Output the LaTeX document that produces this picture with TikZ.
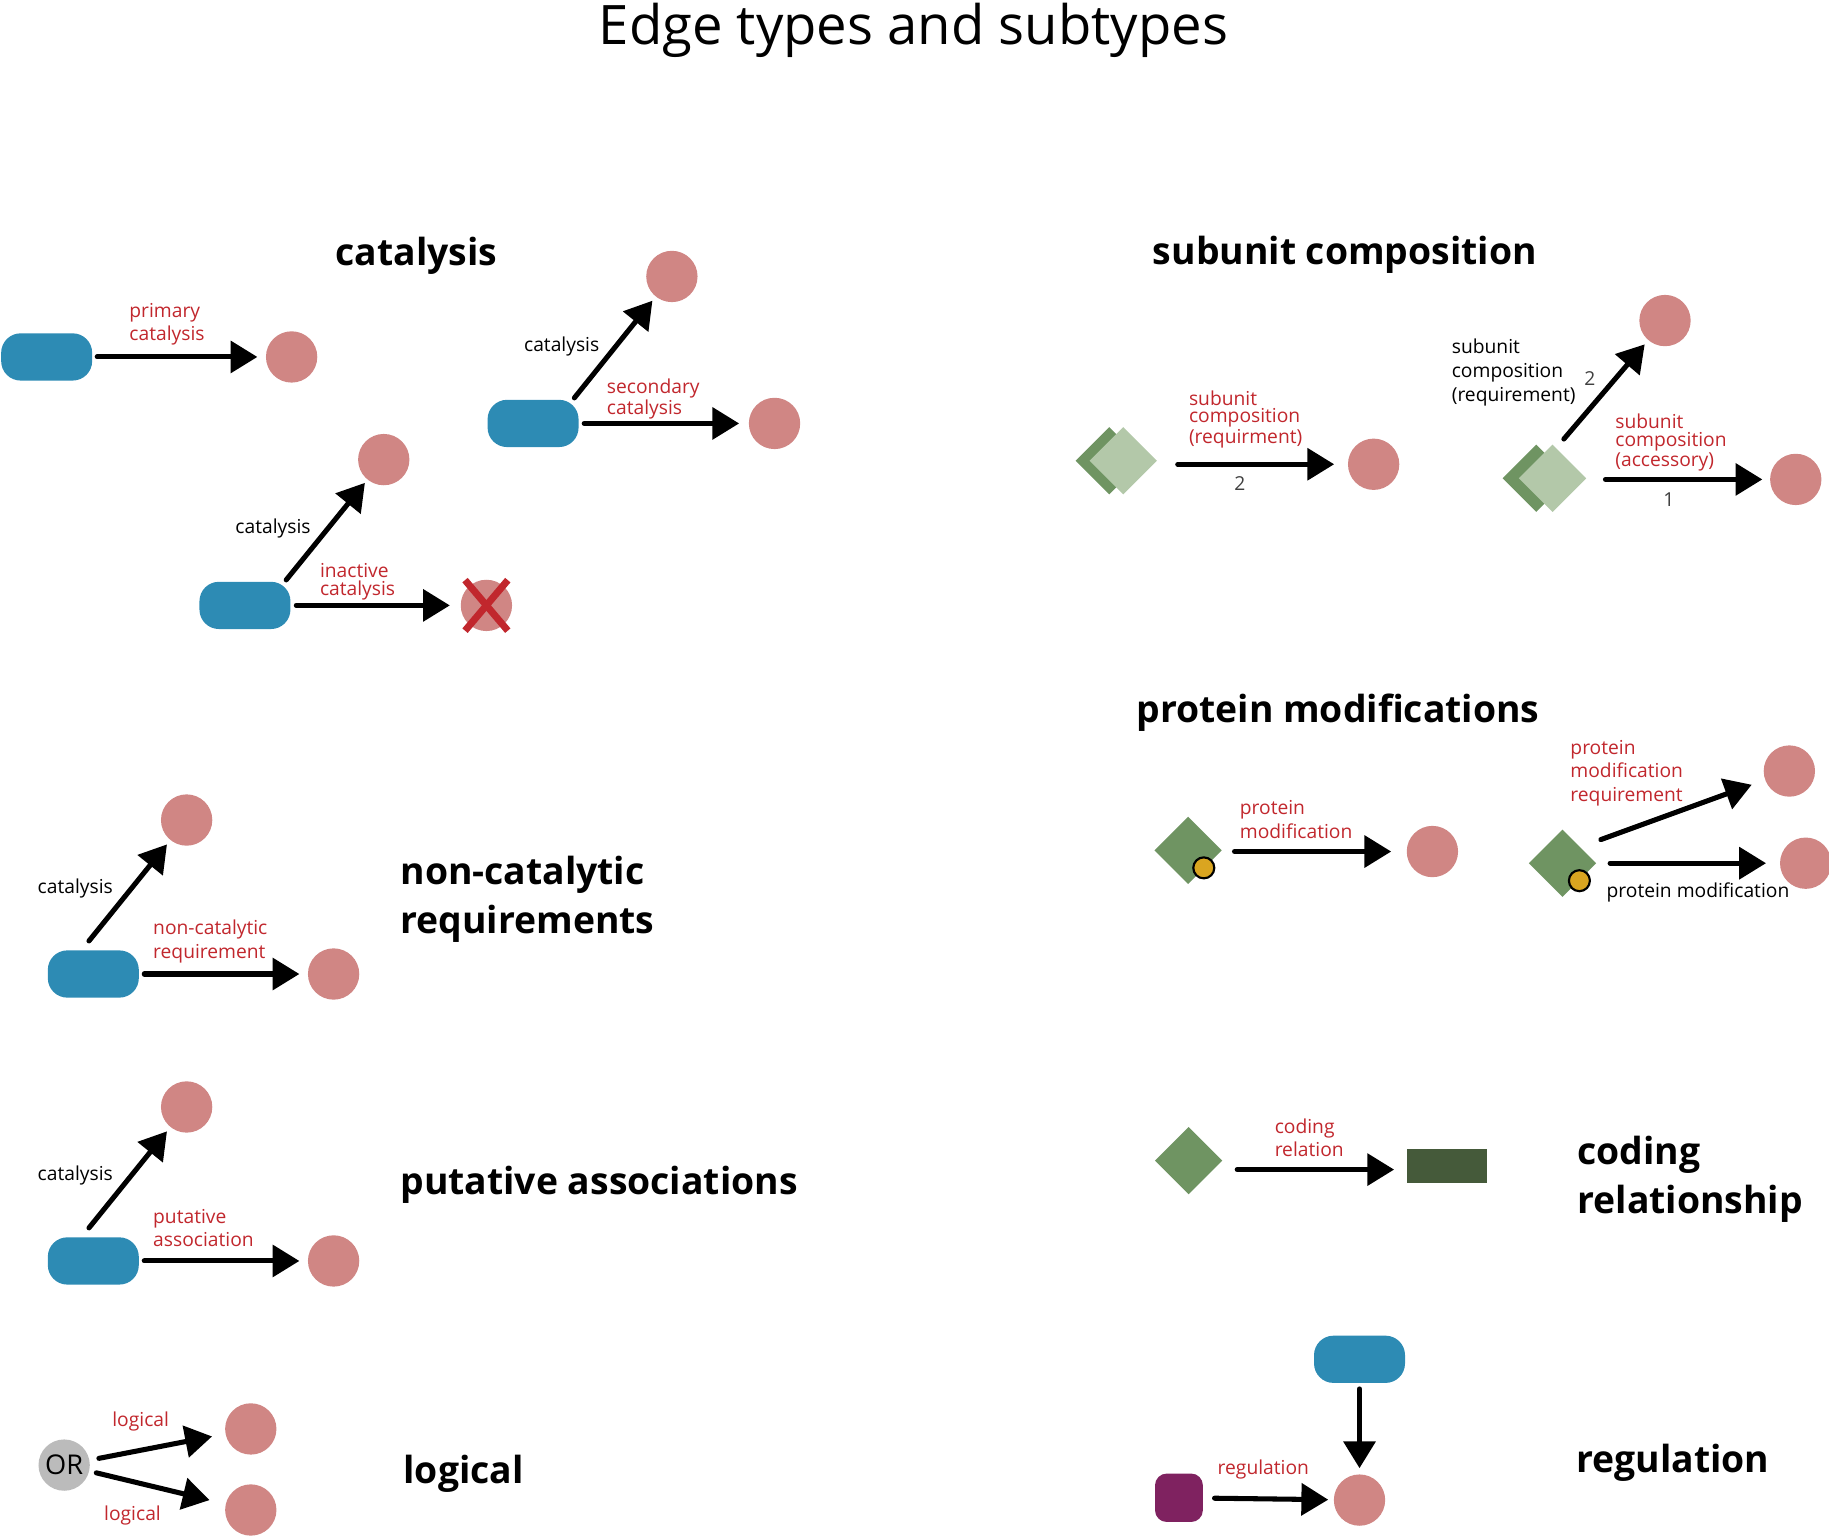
\documentclass[tikz,border=0pt]{standalone}
\usepackage{fontspec}
\setmainfont{Open Sans}
\usetikzlibrary{arrows.meta,shapes.geometric}
\definecolor{enzblue}{HTML}{2D8BB4}
\definecolor{molpink}{HTML}{D08684}
\definecolor{edgered}{HTML}{C1272D}
\definecolor{protgreen}{HTML}{6F9462}
\definecolor{palegreen}{HTML}{B3C8A9}
\definecolor{modyellow}{HTML}{DAA520}
\definecolor{genegreen}{HTML}{455A3A}
\definecolor{regpurple}{HTML}{7F2260}
\definecolor{orgray}{HTML}{BBBBBB}
\begin{document}
\begin{tikzpicture}[x=0.6pt,y=-0.6pt,
    enzyme/.style={rectangle, rounded corners=10pt, fill=enzblue, minimum width=46.8pt, minimum height=24.3pt, inner sep=0pt},
    target/.style={circle, fill=molpink, minimum size=26.4pt, inner sep=0pt},
    protein/.style={diamond, fill=protgreen, minimum width=34.8pt, minimum height=34.8pt, inner sep=0pt},
    complex/.style={protein, fill=palegreen},
    moddot/.style={circle, fill=modyellow, draw=black, line width=1.1pt, minimum size=10.8pt, inner sep=0pt},
    edge/.style={line width=2.6pt, line cap=round, -{Triangle[length=13.8pt,width=16.2pt]}},
    xmark/.style={draw=edgered, line width=3.6pt},
    lbl/.style={font=\fontsize{9.9}{12}\selectfont, align=left, inner sep=0pt, anchor=west},
    redlbl/.style={lbl, text=edgered},
    tight/.style={font=\fontsize{9.9}{9}\selectfont},
    num/.style={font=\fontsize{9.9}{12}\selectfont, text=black!75, inner sep=0pt},
    heading/.style={font=\bfseries\fontsize{19.2}{25}\selectfont, inner sep=0pt, align=left}]
    \useasboundingbox (0,0) rectangle (1568,1317);
    \node[font=\fontsize{28}{34}\selectfont, anchor=base, inner sep=0pt] (title) at (783,38) {Edge types and subtypes};

    % catalysis
    \node[heading, anchor=base] (hcat) at (357,228) {catalysis};
    \node[enzyme] (e1) at (40,306) {};
    \node[target] (t1) at (250,306) {};
    \draw[edge, shorten <=2.4pt, shorten >=4.2pt] (e1) -- (t1);
    \node[redlbl] (l1) at (110.6,278) {primary\\catalysis};

    \node[enzyme] (e2) at (457,363) {};
    \node[target] (t2) at (576,237) {};
    \node[target] (t3) at (664,363) {};
    \draw[edge, shorten <=1pt, shorten >=2.6pt] ([xshift=-3pt]e2.north east) -- (t2);
    \draw[edge, shorten <=2.7pt, shorten >=4.8pt] (e2) -- (t3);
    \node[lbl] (l2) at (449,297) {catalysis};
    \node[redlbl, tight] (l3) at (520,342) {secondary\\catalysis};

    \node[enzyme] (e3) at (210,519) {};
    \node[target] (t4) at (329,394) {};
    \node[target] (t5) at (417,519) {};
    \draw[edge, shorten <=1pt, shorten >=2pt] ([xshift=-3pt]e3.north east) -- (t4);
    \draw[edge, shorten <=2.8pt, shorten >=5.4pt] (e3) -- (t5);
    \draw[xmark] ([shift={(-11pt,13pt)}]t5.center) -- ([shift={(11pt,-13pt)}]t5.center);
    \draw[xmark] ([shift={(11pt,13pt)}]t5.center) -- ([shift={(-11pt,-13pt)}]t5.center);
    \node[lbl] (l4) at (201.5,453) {catalysis};
    \node[redlbl, tight] (l5) at (274,498.6) {inactive\\catalysis};

    % non-catalytic requirements
    \node[heading, anchor=west] (hnon) at (343,771) {non-catalytic\\requirements};
    \node[enzyme] (e4) at (80,835) {};
    \node[target] (t6) at (160,703) {};
    \node[target] (t7) at (286,835) {};
    \draw[edge, shorten <=6pt, shorten >=2.7pt] ([xshift=-6pt]e4.north) -- (t6);
    \draw[edge, shorten <=2.6pt, shorten >=4.2pt] (e4) -- (t7);
    \node[lbl] (l6) at (32,762) {catalysis};
    \node[redlbl] (l7) at (131,807) {non-catalytic\\requirement};

    % putative associations
    \node[heading, anchor=base west] (hput) at (343,1024) {putative associations};
    \node[enzyme] (e5) at (80,1081) {};
    \node[target] (t8) at (160,949) {};
    \node[target] (t9) at (286,1081) {};
    \draw[edge, shorten <=6pt, shorten >=2.7pt] ([xshift=-6pt]e5.north) -- (t8);
    \draw[edge, shorten <=2.6pt, shorten >=4.2pt] (e5) -- (t9);
    \node[lbl] (l8) at (32,1008) {catalysis};
    \node[redlbl] (l9) at (131,1053) {putative\\association};

    % logical
    \node[heading, anchor=base west] (hlog) at (345.6,1272) {logical};
    \node[circle, fill=orgray, minimum size=26.4pt, inner sep=0pt, font=\fontsize{14}{16}\selectfont] (or) at (55,1256) {OR};
    \node[target] (t10) at (215,1225) {};
    \node[target] (t11) at (215,1294.5) {};
    \draw[edge, shorten <=4.8pt, shorten >=6.9pt] (or) -- (t10);
    \draw[edge, shorten <=3.6pt, shorten >=8.4pt] (or) -- (t11);
    \node[redlbl] (l10) at (96,1218.7) {logical};
    \node[redlbl] (l11) at (89,1298.8) {logical};

    % subunit composition
    \node[heading, anchor=base] (hsub) at (1153,227) {subunit composition};
    \node[protein] (sd1b) at (951,395) {};
    \node[complex] (sd1) at (963,395) {};
    \node[target] (sc1) at (1177.6,398) {};
    \draw[edge, shorten <=10.4pt, shorten >=6.9pt] (sd1.east |- sc1) -- (sc1);
    \node[redlbl, tight] (l12) at (1019,359.5) {subunit\\composition\\(requirment)};
    \node[num] (n1) at (1063,414.3) {2};

    \node[protein] (sd2b) at (1317,410) {};
    \node[complex] (sd2) at (1331,410) {};
    \node[target] (sc2) at (1427.4,274.8) {};
    \node[target] (sc3) at (1539.5,411) {};
    \draw[edge, shorten <=3.4pt, shorten >=2.7pt] ([xshift=3.6pt]sd2.north) -- (sc2);
    \draw[edge, shorten <=9.6pt, shorten >=3.8pt] (sd2.east |- sc3) -- (sc3);
    \node[lbl, font=\fontsize{9.9}{12.4}\selectfont] (l13) at (1244.3,319.5) {subunit\\composition\\(requirement)};
    \node[num] (n2) at (1363,324.3) {2};
    \node[redlbl, tight] (l14) at (1384.5,379.5) {subunit\\composition\\(accessory)};
    \node[num] (n3) at (1430.8,428.6) {1};

    % protein modifications
    \node[heading, anchor=base] (hmod) at (1147,619) {protein modifications};
    \node[protein] (pd1) at (1018.5,729) {};
    \node[moddot] (pm1) at (1032,744) {};
    \node[target] (pc1) at (1228,730) {};
    \draw[edge, shorten <=6.3pt, shorten >=7.8pt] (pd1.east |- pc1) -- (pc1);
    \node[redlbl] (l15) at (1062.6,702.7) {protein\\modification};

    \node[protein] (pd2) at (1339.5,740) {};
    \node[moddot] (pm2) at (1354,755) {};
    \node[target] (pc2) at (1534,661) {};
    \node[target] (pc3) at (1548,740) {};
    \draw[edge, shorten <=1pt, shorten >=7.2pt] ([shift={(10pt,3pt)}]pd2.north east) -- (pc2);
    \draw[edge, shorten <=6.9pt, shorten >=7pt] (pd2) -- (pc3);
    \node[redlbl] (l16) at (1346,662.8) {protein\\modification\\requirement};
    \node[lbl] (l17) at (1377,764.7) {protein modification};

    % coding relationship
    \node[heading, anchor=west] (hcod) at (1352,1011) {coding\\relationship};
    \node[protein] (cd) at (1019,995) {};
    \node[rectangle, fill=genegreen, minimum width=41.4pt, minimum height=17.4pt, inner sep=0pt] (cr) at (1240.5,999.6) {};
    \draw[edge, shorten <=7.4pt, shorten >=6.3pt] ([yshift=-4.6pt]cd.east) -- ([yshift=-4.6pt]cd.east -| cr.west);
    \node[redlbl] (l18) at (1092.5,975.5) {coding\\relation};

    % regulation
    \node[heading, anchor=base west] (hreg) at (1351,1262.4) {regulation};
    \node[enzyme] (re) at (1165.5,1165.3) {};
    \node[target] (rc) at (1165.5,1286) {};
    \node[rectangle, rounded corners=6pt, fill=regpurple, minimum width=24.6pt, minimum height=24.9pt, inner sep=0pt] (rp) at (1010.7,1284) {};
    \draw[edge, shorten <=2.9pt, shorten >=3pt] (re) -- (rc);
    \draw[edge, shorten <=5.8pt, shorten >=2.7pt] (rp) -- (rc);
    \node[redlbl] (l19) at (1043.6,1259.5) {regulation};
\end{tikzpicture}
\end{document}
